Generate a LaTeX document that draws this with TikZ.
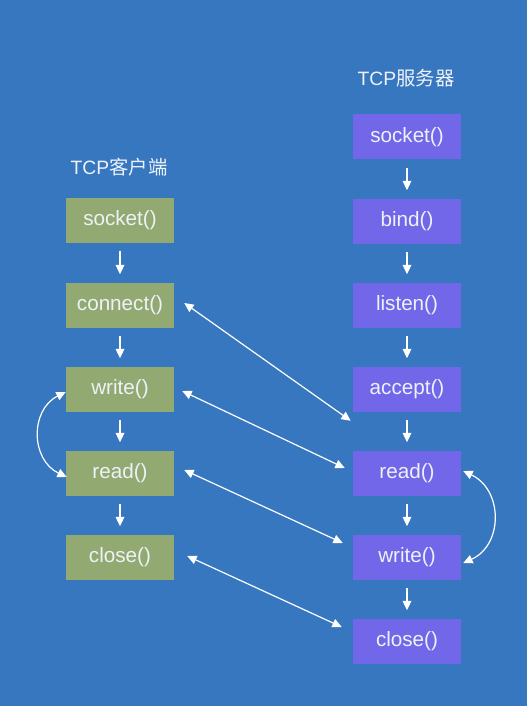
\documentclass[tikz,border=0pt]{standalone}
\usepackage{fontspec}
\setmainfont{Liberation Sans}
\newfontfamily\cjk{Noto Sans CJK SC}
\usetikzlibrary{arrows.meta}
\definecolor{bgblue}{HTML}{3777C0}
\definecolor{cligreen}{HTML}{92AA72}
\definecolor{srvpurple}{HTML}{7267E8}
\definecolor{lbltext}{HTML}{EEF2F8}
\tikzset{
  callbox/.style={minimum width=81pt, minimum height=33.75pt, inner sep=0pt,
    text=lbltext, font=\fontsize{15.5}{18}\selectfont},
  clibox/.style={callbox, fill=cligreen},
  srvbox/.style={callbox, fill=srvpurple},
  title/.style={text=lbltext, font=\fontsize{14.5}{17}\selectfont},
  flow/.style={white, line width=0.9pt, -{Triangle[length=7pt,width=6.5pt]},
    shorten <=6pt, shorten >=6pt},
  talk/.style={white, line width=0.9pt,
    {Triangle[length=7pt,width=6.5pt]}-{Triangle[length=7pt,width=6.5pt]}}
}
\begin{document}
\begin{tikzpicture}[x=0.75pt, y=-0.75pt]

\fill[bgblue] (0,0) rectangle (527,706);
\useasboundingbox (0,0) rectangle (527,706);

% client side
\node[title] (ctitle) at (119,167) {TCP{\cjk 客户端}};
\node[clibox] (cs) at (120,220) {socket()};
\node[clibox] (cc) at (120,305) {connect()};
\node[clibox] (cw) at (120,389) {write()};
\node[clibox] (cr) at (120,473) {read()};
\node[clibox] (cx) at (120,557) {close()};

% server side
\node[title] (stitle) at (406,78) {TCP{\cjk 服务器}};
\node[srvbox] (ss) at (407,137) {socket()};
\node[srvbox] (sb) at (407,221) {bind()};
\node[srvbox] (sl) at (407,305) {listen()};
\node[srvbox] (sa) at (407,389) {accept()};
\node[srvbox] (sr) at (407,473) {read()};
\node[srvbox] (sw) at (407,557) {write()};
\node[srvbox] (sx) at (407,641) {close()};

\draw[flow] (cs) -- (cc);
\draw[flow] (cc) -- (cw);
\draw[flow] (cw) -- (cr);
\draw[flow] (cr) -- (cx);

\draw[flow] (ss) -- (sb);
\draw[flow] (sb) -- (sl);
\draw[flow] (sl) -- (sa);
\draw[flow] (sa) -- (sr);
\draw[flow] (sr) -- (sw);
\draw[flow] (sw) -- (sx);

% client <-> server
\draw[talk] ([shift={(10,-2)}]cc.east) -- ([shift={(-2,9)}]sa.south west);
\draw[talk] ([shift={(8,2)}]cw.east) -- ([shift={(-8,-5)}]sr.west);
\draw[talk] ([shift={(10,-3)}]cr.east) -- ([shift={(-10,-14)}]sw.west);
\draw[talk] ([shift={(13,-1)}]cx.east) -- ([shift={(-11,-14)}]sx.west);

% loops
\draw[talk] ([shift={(0,3)}]cw.west) .. controls +(-36,18) and +(-36,-17) .. ([shift={(1,4)}]cr.west);
\draw[talk] ([shift={(2,-2)}]sr.east) .. controls +(40,19) and +(40,-18) .. ([shift={(2,6)}]sw.east);

\end{tikzpicture}
\end{document}
